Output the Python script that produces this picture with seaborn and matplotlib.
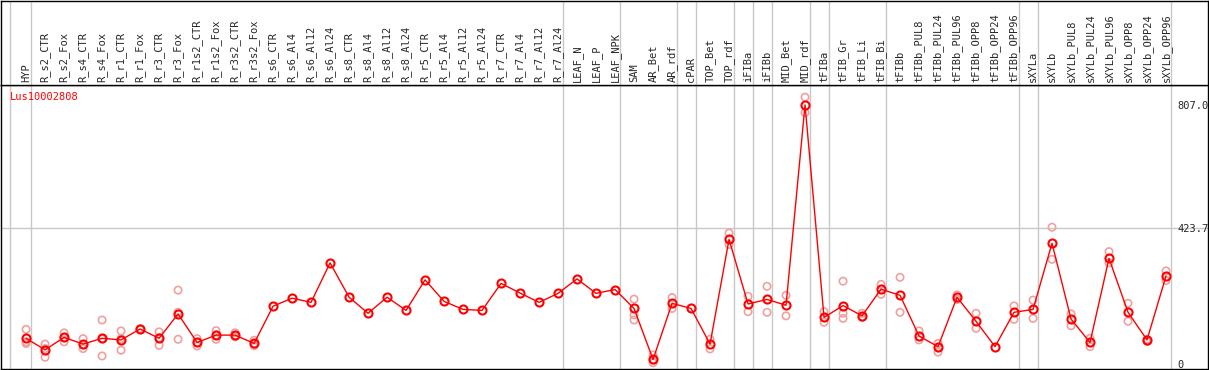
import pandas as pd
import matplotlib
import matplotlib.pyplot as plt
import seaborn as sns
matplotlib.use("Agg")

samples = [
    "HYP", "R_s2_CTR", "R_s2_Fox", "R_s4_CTR", "R_s4_Fox", "R_r1_CTR", "R_r1_Fox",
    "R_r3_CTR", "R_r3_Fox", "R_r1s2_CTR", "R_r1s2_Fox", "R_r3s2_CTR", "R_r3s2_Fox",
    "R_s6_CTR", "R_s6_Al4", "R_s6_Al12", "R_s6_Al24", "R_s8_CTR", "R_s8_Al4",
    "R_s8_Al12", "R_s8_Al24", "R_r5_CTR", "R_r5_Al4", "R_r5_Al12", "R_r5_Al24",
    "R_r7_CTR", "R_r7_Al4", "R_r7_Al12", "R_r7_Al24", "LEAF_N", "LEAF_P", "LEAF_NPK",
    "SAM", "AR_Bet", "AR_rdf", "cPAR", "TOP_Bet", "TOP_rdf", "iFIBa", "iFIBb",
    "MID_Bet", "MID_rdf", "tFIBa", "tFIB_Gr", "tFIB_Li", "tFIB_Bi", "tFIBb",
    "tFIBb_PUL8", "tFIBb_PUL24", "tFIBb_PUL96", "tFIBb_OPP8", "tFIBb_OPP24",
    "tFIBb_OPP96", "sXYLa", "sXYLb", "sXYLb_PUL8", "sXYLb_PUL24", "sXYLb_PUL96",
    "sXYLb_OPP8", "sXYLb_OPP24", "sXYLb_OPP96",
]

means = [
    80, 44, 83, 62, 80, 75, 109, 80, 156, 67, 90, 90, 64,
    180, 205, 192, 315, 208, 158, 208, 167, 262, 195, 170, 167,
    251, 221, 192, 220, 265, 220, 232,
    173, 14, 189, 173, 62, 388, 187, 201, 183, 807,
    145, 182, 150, 233, 214, 87, 54, 208, 133, 54, 161,
    170, 376, 140, 67, 329, 161, 75, 274,
]

# replicate values per sample (empty where none are visible apart from the mean)
replicates = [
    [108, 69, 64], [62, 21, 48], [97, 69, 83], [79, 48, 60], [137, 25, 78],
    [103, 43, 79], [108, 110], [100, 58, 82], [230, 77, 161], [79, 56, 67],
    [104, 77, 90], [97, 85, 88], [74, 57, 62],
    [], [], [], [], [], [], [], [], [], [], [], [], [], [], [], [], [], [], [],
    [202, 153, 137], [28, 4, 12], [207, 173], [], [77, 47], [408, 372],
    [211, 163], [242, 161], [214, 150], [831, 783],
    [163, 130], [258, 158, 142], [158, 145], [248, 217], [270, 161],
    [103, 75], [64, 37], [215, 201], [158, 111], [], [181, 139],
    [199, 142], [426, 326], [156, 119], [80, 54], [350, 315], [189, 133],
    [77, 70], [290, 260],
]

y_ticks = [0, 423.7, 807.0]
gene = "Lus10002808"

# group separators (after these sample indices)
group_ends = [0, 28, 31, 34, 35, 37, 38, 39, 41, 42, 45, 52, 53, 60]

idx = list(range(len(samples)))
df_mean = pd.DataFrame({"x": idx, "y": means})
rep_rows = [(i, v) for i, vals in enumerate(replicates) for v in vals]
df_rep = pd.DataFrame(rep_rows, columns=["x", "y"])

sns.set_style("white")
plt.rcParams["font.family"] = ["DejaVu Sans Mono", "DejaVu Sans"]
plt.rcParams["font.size"] = 7

W, H = 1209, 370
fig = plt.figure(figsize=(W / 100, H / 100), dpi=100)
ax = fig.add_axes([1 / W, 1 / H, 1207 / W, 284 / H])
hdr = fig.add_axes([1 / W, 285 / H, 1207 / W, 84.5 / H], sharex=ax)

xlim = (-1.32, 62.21)
grid_c = "#c8c8c8"
sep_x = [-0.84] + [g + 0.24 for g in group_ends]

for a in (ax, hdr):
    for x in sep_x:
        a.axvline(x, color=grid_c, lw=1, zorder=0)
    for s in a.spines.values():
        s.set_color("black")
        s.set_linewidth(1)

ax.axhline(423.7, color=grid_c, lw=1, zorder=0)

sns.scatterplot(data=df_rep, x="x", y="y", ax=ax, marker="o", s=28,
                facecolor="none", edgecolor="#f0a0a0", linewidth=1.2, zorder=2,
                legend=False)
sns.lineplot(data=df_mean, x="x", y="y", ax=ax, color="red", lw=1,
             marker="o", markersize=5.8, markerfacecolor="none",
             markeredgecolor="red", markeredgewidth=1.5, zorder=3)

ax.set_xlim(*xlim)
ax.set_ylim(-15.6, 869)
ax.set_xlabel("")
ax.set_ylabel("")
ax.set_xticks([])
ax.yaxis.tick_right()
ax.set_yticks(y_ticks)
ax.set_yticklabels(["0", "423.7", "807.0"])
ax.tick_params(axis="y", length=0, pad=-22, labelsize=7.5)
for lab in ax.get_yticklabels():
    lab.set_horizontalalignment("left")
ax.text(0.0075, 0.958, gene, transform=ax.transAxes, color="red",
        fontsize=7.5, ha="left", va="center")

hdr.set_ylim(0, 1)
hdr.set_yticks([])
hdr.tick_params(axis="x", length=0, labelbottom=False)
for i, name in enumerate(samples):
    hdr.text(i, 0.04, name, rotation=90, ha="center", va="bottom", fontsize=7.5)

fig.savefig("out.png", dpi=100)
